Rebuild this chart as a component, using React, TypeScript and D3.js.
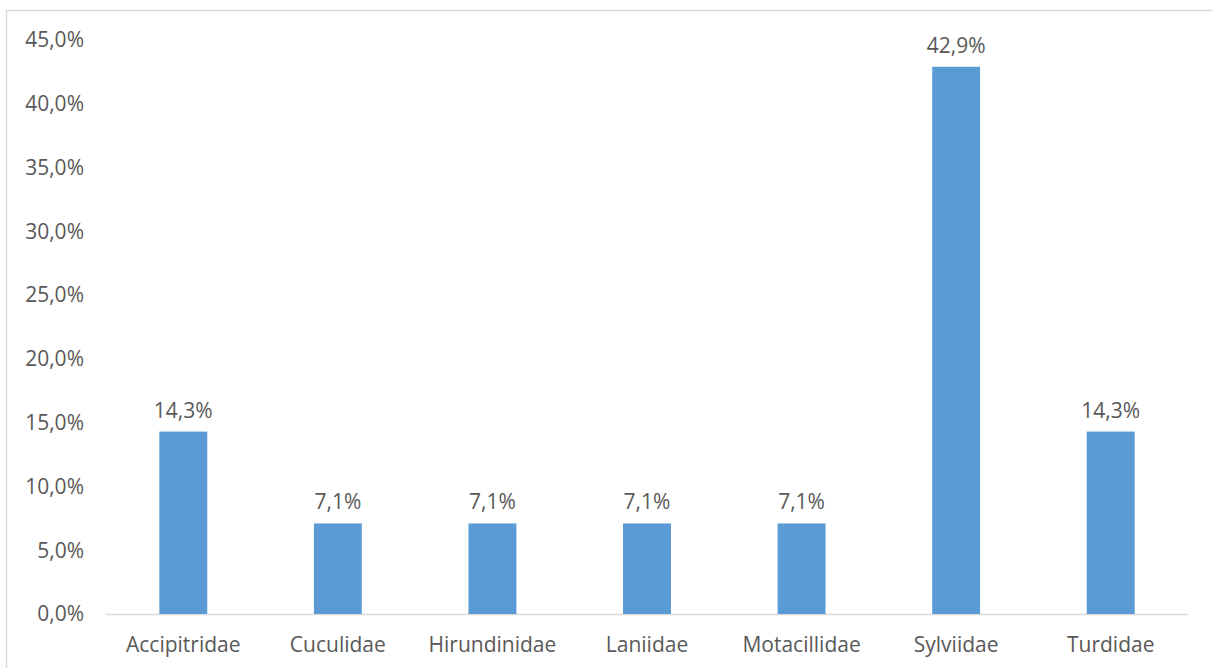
import React from "react";
import * as d3 from "d3";

const families = ["Accipitridae", "Cuculidae", "Hirundinidae", "Laniidae", "Motacillidae", "Sylviidae", "Turdidae"];
const shares = [14.3, 7.1, 7.1, 7.1, 7.1, 42.9, 14.3];
const yTicks = [0, 5, 10, 15, 20, 25, 30, 35, 40, 45];

const W = 1212;
const H = 668;
const plot = { left: 106, right: 1188, top: 40, bottom: 614 };
const textColor = "#595959";
const font = "'Open Sans', 'Noto Sans', sans-serif";
const fs = 21;

const fmt = (v: number) => v.toFixed(1).replace(".", ",") + "%";

export default function App() {
  const x = d3.scaleBand<string>().domain(families).range([plot.left, plot.right]).paddingInner(0.69).paddingOuter(0.345);
  const y = d3.scaleLinear().domain([0, 45]).range([plot.bottom, plot.top]);

  return (
    <svg width={W} height={H} style={{ position: "absolute", left: 0, top: 0, background: "#fff" }}>
      <rect x={6.5} y={10.5} width={1230} height={700} fill="#fff" stroke="#d9d9d9" strokeWidth={1.5} />
      {yTicks.map((t) => (
        <text key={t} x={84} y={y(t)} dy="0.35em" textAnchor="end" fontFamily={font} fontSize={fs} fill={textColor}>
          {fmt(t)}
        </text>
      ))}
      <line x1={plot.left} x2={plot.right} y1={plot.bottom + 0.5} y2={plot.bottom + 0.5} stroke="#d9d9d9" strokeWidth={1.5} />
      {families.map((f, i) => (
        <g key={f}>
          <rect x={x(f)} y={y(shares[i])} width={x.bandwidth()} height={plot.bottom - y(shares[i])} fill="#5b9bd5" />
          <text x={x(f)! + x.bandwidth() / 2} y={y(shares[i]) - 14} textAnchor="middle" fontFamily={font} fontSize={fs} fill={textColor}>
            {fmt(shares[i])}
          </text>
          <text x={x(f)! + x.bandwidth() / 2} y={652} textAnchor="middle" fontFamily={font} fontSize={fs} fill={textColor}>
            {f}
          </text>
        </g>
      ))}
    </svg>
  );
}
